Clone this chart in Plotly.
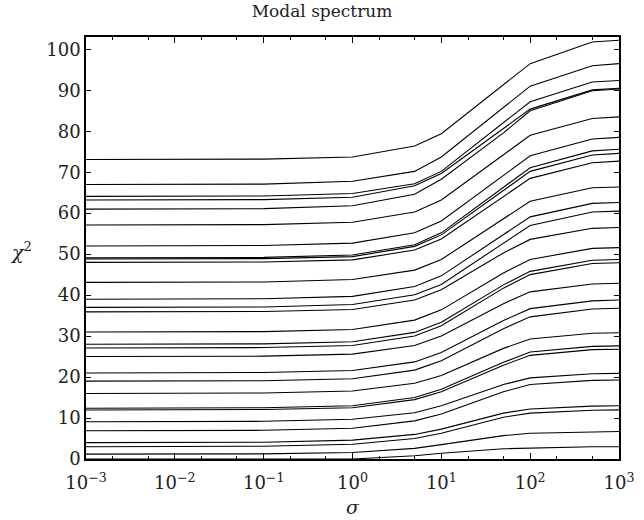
import plotly.graph_objects as go

# sigma sample points (log axis)
sigma = [0.001, 0.01, 0.1, 1, 5, 10, 50, 100, 500, 1000]

# chi^2 of each mode at the sigma points (lowest mode first)
mode_00 = [0.0, 0.0, 0.0, 0.0, 0.8, 1.4, 2.5, 2.7, 3.0, 3.0]
mode_01 = [1.2, 1.2, 1.25, 1.6, 2.6, 3.5, 5.7, 6.3, 6.65, 6.7]
mode_02 = [3.0, 3.0, 3.1, 3.6, 5.0, 6.3, 10.2, 11.2, 11.9, 12.0]
mode_03 = [4.0, 4.0, 4.1, 4.6, 6.0, 7.3, 11.2, 12.2, 12.9, 13.0]
mode_04 = [6.9, 6.9, 7.0, 7.5, 9.3, 11.0, 16.4, 18.2, 19.2, 19.3]
mode_05 = [9.1, 9.1, 9.2, 9.7, 11.3, 13.0, 18.2, 19.8, 20.8, 20.9]
mode_06 = [11.95, 11.95, 12.1, 12.5, 14.5, 16.4, 22.9, 25.3, 26.7, 26.8]
mode_07 = [12.4, 12.4, 12.5, 13.0, 15.0, 17.0, 23.6, 26.1, 27.5, 27.6]
mode_08 = [16.0, 16.0, 16.1, 16.6, 18.5, 20.4, 27.0, 29.3, 30.7, 30.8]
mode_09 = [19.0, 19.0, 19.1, 19.6, 21.7, 24.0, 31.8, 34.7, 36.6, 36.8]
mode_10 = [21.0, 21.0, 21.1, 21.6, 23.7, 26.0, 33.8, 36.7, 38.6, 38.8]
mode_11 = [25.0, 25.0, 25.1, 25.6, 27.7, 30.0, 37.9, 40.8, 42.7, 42.9]
mode_12 = [27.1, 27.1, 27.2, 27.7, 30.0, 32.5, 41.7, 45.0, 47.7, 47.9]
mode_13 = [28.0, 28.0, 28.1, 28.6, 30.9, 33.4, 42.5, 45.8, 48.5, 48.7]
mode_14 = [31.0, 31.0, 31.1, 31.6, 33.9, 36.4, 45.4, 48.7, 51.4, 51.6]
mode_15 = [35.9, 35.9, 36.0, 36.5, 38.8, 41.3, 50.3, 53.6, 56.3, 56.5]
mode_16 = [37.0, 37.0, 37.1, 37.7, 40.1, 42.6, 52.7, 57.0, 60.3, 60.5]
mode_17 = [39.0, 39.0, 39.1, 39.7, 42.1, 44.7, 54.8, 59.1, 62.4, 62.6]
mode_18 = [43.1, 43.1, 43.2, 43.8, 46.1, 48.7, 58.7, 62.9, 66.2, 66.4]
mode_19 = [48.0, 48.0, 48.1, 48.6, 51.0, 53.7, 64.1, 68.5, 72.3, 72.7]
mode_20 = [48.8, 48.8, 48.9, 49.4, 51.9, 54.7, 65.6, 70.2, 74.2, 74.6]
mode_21 = [49.1, 49.1, 49.2, 49.8, 52.3, 55.2, 66.3, 71.1, 75.2, 75.6]
mode_22 = [52.0, 52.0, 52.1, 52.7, 55.2, 58.1, 69.2, 74.0, 78.1, 78.5]
mode_23 = [57.1, 57.1, 57.2, 57.8, 60.3, 63.2, 74.3, 79.0, 83.1, 83.5]
mode_24 = [61.0, 61.0, 61.1, 61.8, 64.6, 68.3, 79.6, 85.0, 89.9, 90.3]
mode_25 = [63.2, 63.2, 63.3, 63.9, 66.7, 69.7, 80.8, 85.4, 90.1, 90.5]
mode_26 = [64.1, 64.1, 64.2, 64.8, 67.2, 70.2, 82.0, 87.2, 92.0, 92.4]
mode_27 = [67.0, 67.0, 67.1, 67.8, 70.2, 73.7, 85.8, 91.0, 96.0, 96.5]
mode_28 = [73.1, 73.1, 73.2, 73.7, 76.4, 79.4, 91.4, 96.5, 101.8, 102.2]

modes = [mode_00, mode_01, mode_02, mode_03, mode_04, mode_05, mode_06, mode_07,
         mode_08, mode_09, mode_10, mode_11, mode_12, mode_13, mode_14, mode_15,
         mode_16, mode_17, mode_18, mode_19, mode_20, mode_21, mode_22, mode_23,
         mode_24, mode_25, mode_26, mode_27, mode_28]

x_tickvals = [0.001, 0.01, 0.1, 1, 10, 100, 1000]
x_ticktext = ["10<sup>−3</sup>", "10<sup>−2</sup>", "10<sup>−1</sup>", "10<sup>0</sup>",
              "10<sup>1</sup>", "10<sup>2</sup>", "10<sup>3</sup>"]
y_tickvals = [0, 10, 20, 30, 40, 50, 60, 70, 80, 90, 100]

FONT = "DejaVu Serif"
INK = "#222"

fig = go.Figure()
for m in modes:
    fig.add_trace(go.Scatter(x=sigma, y=m, mode="lines",
                             line=dict(color="black", width=1.1),
                             showlegend=False, hoverinfo="skip"))

fig.update_layout(
    width=644,
    height=520,
    margin=dict(l=86, r=25, t=37, b=61, autoexpand=False),
    paper_bgcolor="white",
    plot_bgcolor="white",
    font=dict(family=FONT, size=18, color=INK),
    title=dict(text="Modal spectrum", x=0.5, xref="container", xanchor="center",
               y=0.99, yref="container", yanchor="top",
               font=dict(family=FONT, size=17, color=INK)),
    showlegend=False,
)

fig.update_xaxes(
    type="log",
    range=[-3, 3],
    tickvals=x_tickvals,
    ticktext=x_ticktext,
    ticks="inside",
    ticklen=6,
    tickwidth=1,
    tickcolor="black",
    ticklabelstandoff=7,
    minor=dict(ticks="inside", ticklen=3, tickwidth=1, tickcolor="black", showgrid=False),
    showline=True,
    linecolor="black",
    linewidth=1.5,
    mirror="ticks",
    showgrid=False,
    zeroline=False,
)

fig.update_yaxes(
    range=[0, 103],
    tickvals=y_tickvals,
    ticks="inside",
    ticklen=5,
    tickwidth=1,
    tickcolor="black",
    showline=True,
    linecolor="black",
    linewidth=1.5,
    mirror="ticks",
    showgrid=False,
    zeroline=False,
)

# axis titles placed as annotations (the y label is upright in the original)
fig.add_annotation(text="<i>χ</i><sup>2</sup>", xref="paper", yref="paper",
                   x=-0.122, y=0.493, xanchor="center", yanchor="middle",
                   showarrow=False, font=dict(family=FONT, size=19, color=INK))
fig.add_annotation(text="<i>σ</i>", xref="paper", yref="paper",
                   x=0.5, y=-0.113, xanchor="center", yanchor="middle",
                   showarrow=False, font=dict(family=FONT, size=19, color=INK))

# the page's default body margin would shift the figure; remove it
fig.write_html("out.html",
               config={"displayModeBar": False},
               post_script="document.body.style.margin='0';document.body.style.padding='0';")
